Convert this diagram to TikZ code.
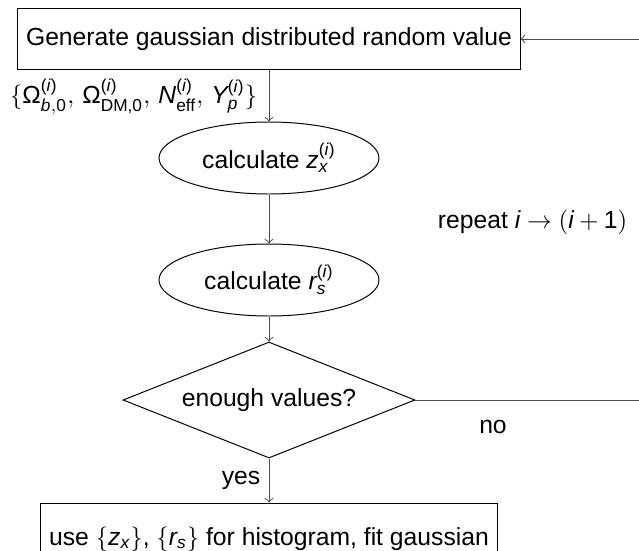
\documentclass[tikz,border=0pt]{standalone}
\usepackage{fontspec}
\usepackage{amsmath}
\setmainfont{Liberation Sans}
\usetikzlibrary{shapes,arrows,positioning,calc}

\newdimen\pxu \pxu=0.405pt
\newcommand{\sfit}[1]{\text{\itshape #1}}
\newcommand{\supi}{\text{(\itshape i\/\upshape)}}

\begin{document}
\begin{tikzpicture}[x=0.405pt, y=-0.405pt,
    box/.style={draw, rectangle, align=center},
    bubble/.style={draw, ellipse, minimum width=220\pxu, minimum height=72\pxu, inner sep=1pt},
    decide/.style={draw, diamond, aspect=2.5, minimum width=292\pxu, minimum height=116\pxu, inner sep=1pt},
    line/.style={draw=black!70, ->}]
  \useasboundingbox (0,0) rectangle (639,550);
  \clip (0,0) rectangle (639,550);

  \node[box, minimum width=500\pxu, minimum height=61\pxu] (gen) at (269,39)
       {Generate gaussian distributed random value};

  \node[anchor=east] (params) at (266,97)
       {$\{\text{Ω}^{\supi}_{\sfit{b},\text{0}},\, \text{Ω}^{\supi}_{\text{DM,0}},\,
          \sfit{N}^{\supi}_{\text{eff}},\, \sfit{Y}^{\supi}_{\sfit{p}}\}$};

  \node[bubble] (zx) at (269,158) {calculate $\sfit{z}^{\supi}_{\sfit{x}}$};
  \node[bubble] (rs) at (269,280) {calculate $\sfit{r}^{\supi}_{\sfit{s}}$};

  \node[decide] (enough) at (269,400) {enough values?};

  \node[box, minimum width=456\pxu, minimum height=72\pxu] (hist) at (269,539)
       {use $\{\sfit{z}_{\sfit{x}}\}$, $\{\sfit{r}_{\sfit{s}}\}$ for histogram, fit gaussian};

  % loop back on the right
  \coordinate (loopdown) at (660,400);
  \coordinate (loopup) at (660,39);

  \draw[line] (gen) -- (zx);
  \draw[line] (zx) -- (rs);
  \draw[line] (rs) -- (enough);
  \draw[line] (enough) -- node[left] (yes) {yes} (hist);
  \draw[line] (enough.east) -- (loopdown) -- (loopup) -- (gen.east);

  \node (no) at (493,427) {no};
  \node[anchor=east] (repeat) at (636,222) {repeat $\sfit{i} \to (\sfit{i}+\text{1})$};
\end{tikzpicture}
\end{document}
